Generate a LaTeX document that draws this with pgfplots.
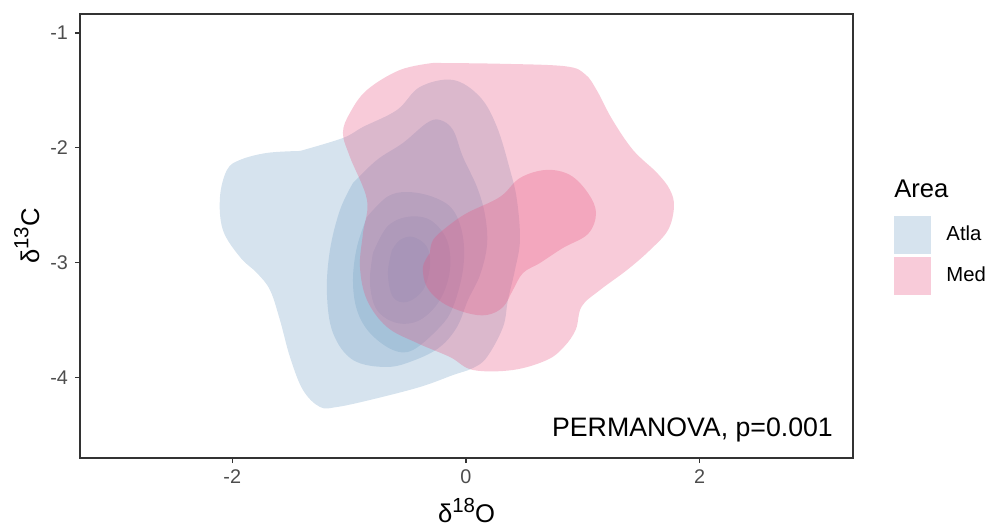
\documentclass[border=0pt]{standalone}
\usepackage{pgfplots}
\pgfplotsset{compat=1.18}
\usepackage{fontspec}
\setmainfont{Liberation Sans}
\definecolor{atla}{RGB}{118,162,198}
\definecolor{med}{RGB}{231,84,128}
\definecolor{grey20}{RGB}{51,51,51}
\definecolor{grey30}{RGB}{77,77,77}
\newcommand{\sups}[1]{\raisebox{0.42em}{\fontsize{10.2}{10}\selectfont #1}}
\begin{document}
\begin{tikzpicture}
\useasboundingbox (0,0) rectangle (494.5pt,263pt);
\begin{axis}[
  at={(40pt,34pt)}, anchor=south west,
  scale only axis, width=386.5pt, height=222pt,
  xmin=-3.303, xmax=3.312, ymin=-4.699, ymax=-0.835,
  clip=false,
  axis line style={draw=grey20, line width=0.6pt},
  tick style={draw=grey20, line width=0.6pt},
  tick align=outside, major tick length=2.5pt, tick pos=left,
  xtick={-2,0,2}, xticklabels={-2,0,2},
  ytick={-4,-3,-2,-1}, yticklabels={-4,-3,-2,-1},
  ticklabel style={font=\fontsize{9.9}{11}\selectfont, text=grey30},
  xlabel={δ\sups{18}O},
  ylabel={δ\sups{13}C},
  every axis x label/.style={at={(axis description cs:0.5,-0.146)}, anchor=base, font=\fontsize{12.8}{14}\selectfont, text=black},
  every axis y label/.style={at={(axis description cs:-0.069,0.5)}, rotate=90, anchor=center, font=\fontsize{12.8}{14}\selectfont, text=black},
  legend image code/.code={\fill[#1] (0pt,-9.375pt) rectangle (18.75pt,9.375pt);},
  legend style={draw=none, fill=none, inner sep=0pt, outer sep=0pt,
    at={(axis description cs:1.053,0.545)}, anchor=north west,
    row sep=1.75pt, font=\fontsize{10.15}{12}\selectfont,
    nodes={inner sep=0pt},
    /tikz/every odd column/.append style={column sep=7.5pt}},
  legend cell align=left,
]
% ---- Atla (5 levels) ----
\addplot[draw=none, fill=atla, fill opacity=0.3, smooth, tension=0.6] coordinates {
(-1.421,-2.027)(-1.053,-1.914)(-0.881,-1.818)(-0.590,-1.670)(-0.394,-1.470)(-0.111,-1.409)
(0.120,-1.557)(0.265,-1.818)(0.377,-2.192)(0.436,-2.453)(0.462,-2.802)(0.419,-3.063)
(0.359,-3.324)(0.317,-3.559)(0.180,-3.820)(0.060,-3.916)(-0.111,-3.977)(-0.394,-4.081)
(-0.822,-4.194)(-1.104,-4.255)(-1.249,-4.255)(-1.395,-4.107)(-1.506,-3.820)(-1.592,-3.498)
(-1.677,-3.237)(-1.789,-3.089)(-1.934,-2.950)(-2.080,-2.715)(-2.105,-2.427)(-2.045,-2.192)
(-1.934,-2.105)(-1.703,-2.044)(-1.421,-2.027)};
\addlegendentry{Atla}
\addplot[forget plot, draw=none, fill=atla, fill opacity=0.3, smooth, tension=0.6] coordinates {
(-0.967,-2.305)(-0.762,-2.105)(-0.539,-1.957)(-0.334,-1.783)(-0.223,-1.757)(-0.111,-1.844)
(-0.026,-2.079)(0.094,-2.340)(0.163,-2.584)(0.180,-2.845)(0.120,-3.106)(0.017,-3.324)
(-0.077,-3.559)(-0.223,-3.733)(-0.436,-3.846)(-0.676,-3.907)(-0.967,-3.846)(-1.138,-3.611)
(-1.190,-3.263)(-1.164,-2.889)(-1.078,-2.540)(-0.967,-2.305)};
\addplot[forget plot, draw=none, fill=atla, fill opacity=0.3, smooth, tension=0.6] coordinates {
(-0.847,-2.601)(-0.676,-2.427)(-0.505,-2.384)(-0.282,-2.427)(-0.111,-2.540)(-0.026,-2.775)
(-0.026,-3.063)(-0.111,-3.385)(-0.223,-3.559)(-0.454,-3.759)(-0.625,-3.759)(-0.822,-3.611)
(-0.933,-3.411)(-0.967,-3.150)(-0.933,-2.862)(-0.847,-2.601)};
\addplot[forget plot, draw=none, fill=atla, fill opacity=0.3, smooth, tension=0.6] coordinates {
(-0.796,-2.915)(-0.676,-2.688)(-0.505,-2.601)(-0.308,-2.627)(-0.163,-2.802)(-0.137,-3.063)
(-0.223,-3.324)(-0.394,-3.498)(-0.590,-3.524)(-0.762,-3.411)(-0.822,-3.176)(-0.796,-2.915)};
\addplot[forget plot, draw=none, fill=atla, fill opacity=0.3, smooth, tension=0.6] coordinates {
(-0.633,-2.889)(-0.565,-2.802)(-0.454,-2.775)(-0.334,-2.862)(-0.308,-3.037)(-0.368,-3.237)
(-0.505,-3.341)(-0.625,-3.298)(-0.668,-3.089)(-0.633,-2.889)};
% ---- Med (2 levels) ----
\addplot[draw=none, fill=med, fill opacity=0.3, smooth, tension=0.6] coordinates {
(-0.282,-1.261)(0.291,-1.268)(0.850,-1.290)(1.020,-1.360)(1.120,-1.500)(1.250,-1.750)
(1.429,-2.018)(1.635,-2.218)(1.746,-2.366)(1.780,-2.514)(1.729,-2.715)(1.575,-2.889)
(1.378,-3.063)(1.147,-3.237)(0.990,-3.380)(0.940,-3.580)(0.840,-3.730)(0.693,-3.846)
(0.402,-3.933)(0.060,-3.933)(-0.137,-3.820)(-0.419,-3.698)(-0.676,-3.559)(-0.847,-3.324)
(-0.907,-3.037)(-0.881,-2.741)(-0.847,-2.453)(-0.993,-2.079)(-1.053,-1.870)(-0.993,-1.696)
(-0.847,-1.496)(-0.565,-1.322)(-0.282,-1.261)};
\addlegendentry{Med}
\addplot[forget plot, draw=none, fill=med, fill opacity=0.3, smooth, tension=0.6] coordinates {
(-0.308,-2.915)(-0.368,-3.037)(-0.334,-3.211)(-0.197,-3.350)(0.009,-3.437)(0.180,-3.454)
(0.317,-3.385)(0.402,-3.237)(0.488,-3.089)(0.633,-3.002)(0.830,-2.871)(1.044,-2.749)
(1.113,-2.567)(1.044,-2.393)(0.890,-2.236)(0.685,-2.192)(0.462,-2.262)(0.291,-2.427)
(0.009,-2.567)(-0.163,-2.688)(-0.282,-2.802)(-0.308,-2.915)};
\node[anchor=base east, font=\fontsize{13.35}{15}\selectfont, text=black] at (axis cs:3.20,-4.516) {PERMANOVA, p=0.001};
\node[anchor=base west, inner sep=0pt, font=\fontsize{12.8}{14}\selectfont, text=black] at (axis description cs:1.053,0.5856) {Area};
\end{axis}
\end{tikzpicture}
\end{document}
